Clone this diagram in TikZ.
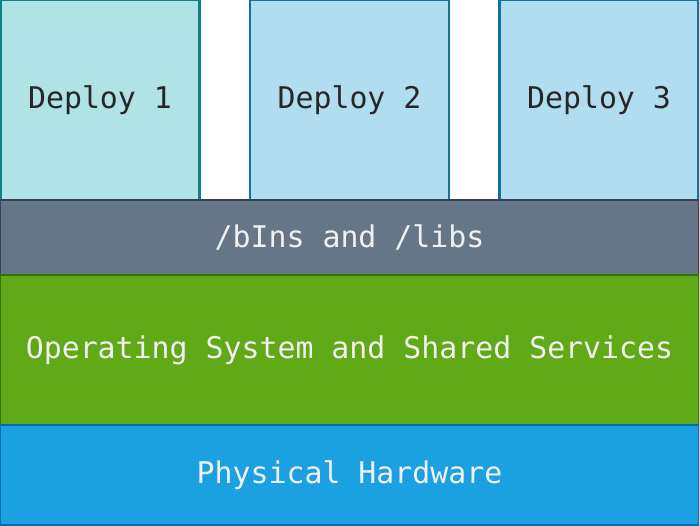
\documentclass[tikz,border=0pt]{standalone}
\usepackage{fontspec}
\setmonofont{DejaVu Sans Mono}
\usepackage{tikz}
\definecolor{deployteal}{RGB}{176,227,230}
\definecolor{deploytealline}{RGB}{14,128,136}
\definecolor{deployblue}{RGB}{177,221,240}
\definecolor{deployblueline}{RGB}{16,115,158}
\definecolor{libgray}{RGB}{100,118,135}
\definecolor{libgrayline}{RGB}{49,67,84}
\definecolor{osgreen}{RGB}{96,169,23}
\definecolor{osgreenline}{RGB}{45,118,0}
\definecolor{hwblue}{RGB}{27,161,226}
\definecolor{hwblueline}{RGB}{0,110,175}
\tikzset{%
  layer/.style={draw, rectangle, line width=1.2pt, inner sep=0pt,
    font=\fontsize{17}{20}\selectfont\ttfamily},% one box of the stack
  deploy/.style={layer, minimum width=199*0.02cm, minimum height=200*0.02cm,
    text=black!85},% application on top
  base/.style={layer, minimum width=699*0.02cm, text=white!94!black}% full-width layer
}
\begin{document}
\begin{tikzpicture}[x=0.02cm, y=-0.02cm]
\useasboundingbox (0,0) rectangle (699,525);
\node[deploy, fill=deployteal, draw=deploytealline] (deploy1) at (100,100) {Deploy 1};
\node[deploy, fill=deployblue, draw=deployblueline] (deploy2) at (349.5,100) {Deploy 2};
\node[deploy, fill=deployblue, draw=deployblueline] (deploy3) at (599,100) {Deploy 3};

\node[base, fill=libgray, draw=libgrayline, minimum height=75*0.02cm] (libs) at (349.5,237.5) {/bIns and /libs};
\node[base, fill=osgreen, draw=osgreenline, minimum height=150*0.02cm] (os) at (349.5,350) {Operating System and Shared Services};
\node[base, fill=hwblue, draw=hwblueline, minimum height=100*0.02cm] (hw) at (349.5,475) {Physical Hardware};
\end{tikzpicture}
\end{document}
